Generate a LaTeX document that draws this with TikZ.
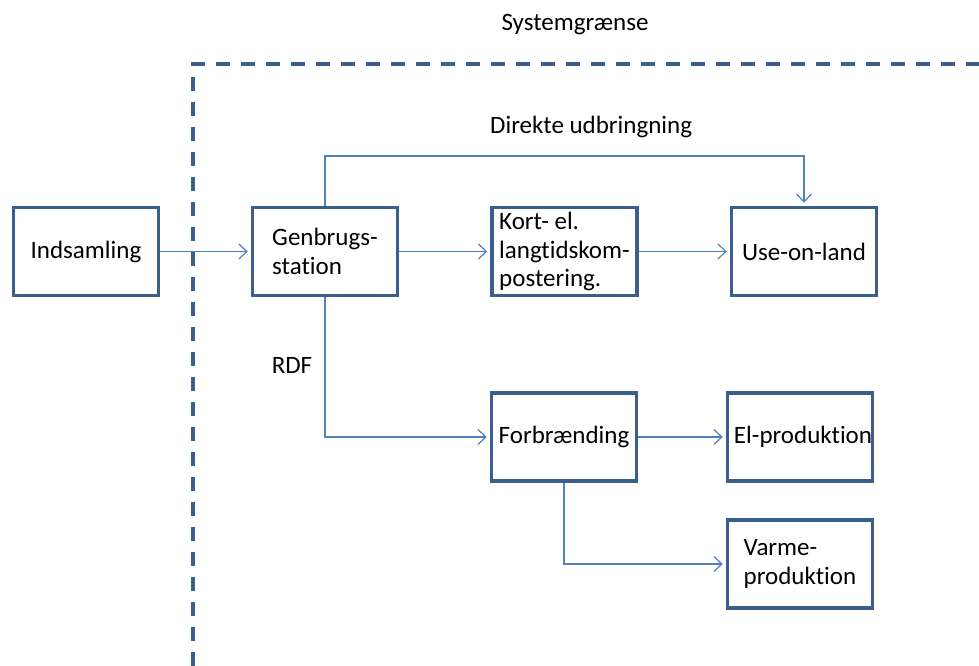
\documentclass[tikz,border=0pt]{standalone}
\usepackage{fontspec}
\setmainfont[Ligatures=NoCommon]{Carlito}
\usetikzlibrary{arrows.meta}
\definecolor{boxblue}{HTML}{3A5F8E}
\definecolor{linkblue}{HTML}{4F81BD}
\tikzset{
  box/.style={draw=boxblue, line width=3.5pt, minimum width=145pt, minimum height=88pt, align=left, inner xsep=0pt, inner ysep=1pt},
  conn/.style={draw=linkblue, line width=1.2pt},
  arr/.style={conn, -{Straight Barb[length=8pt,width=15pt,line width=1.2pt]}, shorten >=3pt},
  lbl/.style={inner sep=0pt},
  boundary/.style={draw=boxblue, line width=3.5pt, dash pattern=on 14pt off 11pt}
}
\begin{document}
\begin{tikzpicture}[x=1pt,y=-1pt,font=\fontsize{25}{28.5}\selectfont]
\useasboundingbox (0,0) rectangle (979,666);
% system boundary
\draw[boundary] (193,666) -- (193,64) -- (979,64);
\node[lbl] (sys) at (575,25) {Systemgrænse};
% boxes
\node[box] (ind) at (86,251.5) {Indsamling};
\node[box] (gen) at (325,251.5) {Genbrugs-\\station};
\node[box] (kort) at (564.5,251.5) {Kort- el.\\langtidskom-\\postering.};
\node[box] (use) at (804,251.5) {Use-on-land};
\node[box] (forb) at (564,437) {Forbrænding};
\node[box] (el) at (800,437) {\hspace*{6pt}El-produktion};
\node[box] (varme) at (800,564) {Varme-\\produktion};
% labels
\node[lbl, anchor=west] (dir) at (490,127) {Direkte udbringning};
\node[lbl] (rdf) at (292,365) {RDF};
\coordinate (topy) at (0,156);
% connectors
\draw[arr] (ind.east) -- (gen.west);
\draw[arr] (gen.east) -- (kort.west);
\draw[arr] (kort.east) -- (use.west);
\draw[arr] (gen.north) -- (gen.north |- topy) -| (use.north);
\draw[arr] (gen.south) |- (forb.west);
\draw[arr] (forb.east) -- (el.west);
\draw[arr] (forb.south) |- (varme.west);
\end{tikzpicture}
\end{document}
